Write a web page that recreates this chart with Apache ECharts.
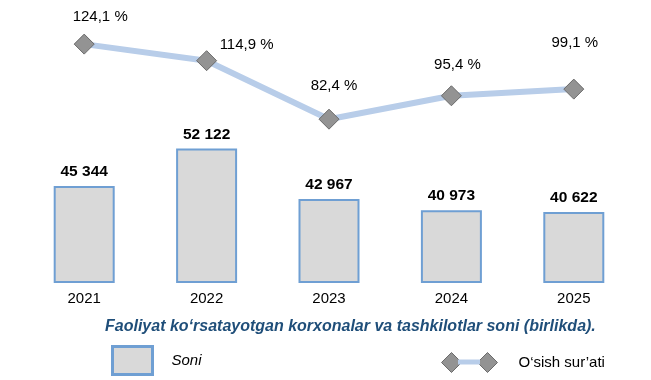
<!DOCTYPE html>
<html>
<head>
<meta charset="utf-8">
<script src="https://cdn.jsdelivr.net/npm/echarts@6/dist/echarts.min.js"></script>
<style>
html,body{margin:0;padding:0;background:#fff;}
#chart{width:651px;height:380px;}
</style>
</head>
<body>
<div id="chart"></div>
<script>
const years = ['2021', '2022', '2023', '2024', '2025'];
const soni = [45344, 52122, 42967, 40973, 40622];
const osish = [124.1, 114.9, 82.4, 95.4, 99.1];
const titleText = 'Faoliyat ko\u2018rsatayotgan korxonalar va tashkilotlar soni (birlikda).';
const barName = 'Soni';
const lineName = 'O\u2018sish sur\u2019ati';

// label placement tweaks (styling only)
const lineLabelOffsets = [[16, -27], [40, -16], [5, -33], [6, -31], [1, -46]];

const fmtThousands = v => String(v).replace(/\B(?=(\d{3})+(?!\d))/g, ' ');
const fmtPct = v => v.toFixed(1).replace('.', ',') + ' %';

const chart = echarts.init(document.getElementById('chart'), null, {renderer: 'canvas'});
const font = 'Liberation Sans, Arial, sans-serif';

chart.setOption({
  animation: false,
  backgroundColor: '#fff',
  textStyle: {fontFamily: font},
  title: {
    text: titleText,
    left: 105, top: 319, padding: 0,
    textStyle: {fontFamily: font, fontSize: 16, fontWeight: 'bold', fontStyle: 'italic', color: '#1f4e79'}
  },
  legend: [
    {
      data: [barName], left: 111, top: 345, padding: 0,
      itemWidth: 40, itemHeight: 28, itemGap: 10,
      icon: 'rect',
      itemStyle: {color: '#d9d9d9', borderColor: '#6f9fd3', borderWidth: 3},
      textStyle: {fontFamily: font, fontSize: 15, fontStyle: 'italic', color: '#000', padding: [0, 0, 0, 14]}
    },
    {
      data: [lineName], left: 441, top: 352, padding: 0,
      itemWidth: 56, itemHeight: 20,
      icon: 'path://M0,10 L10,0 L20,10 L10,20 Z M36,10 L46,0 L56,10 L46,20 Z',
      itemStyle: {color: '#939393', borderColor: '#6b6b6b', borderWidth: 1},
      textStyle: {fontFamily: font, fontSize: 15, color: '#000', padding: [0, 0, 0, 16]}
    }
  ],
  graphic: [
    {type: 'rect', shape: {x: 458, y: 359.5, width: 22, height: 5}, style: {fill: '#b8cde9'}, z: 100}
  ],
  grid: [
    {left: 23, right: 16, top: 138, bottom: 98},
    {left: 23, right: 16, top: 33.5, bottom: 256.5}
  ],
  xAxis: [
    {
      type: 'category', data: years, gridIndex: 0,
      axisLine: {show: false}, axisTick: {show: false},
      axisLabel: {fontFamily: font, fontSize: 15, color: '#000', margin: 9}
    },
    {
      type: 'category', data: years, gridIndex: 1,
      axisLine: {show: false}, axisTick: {show: false}, axisLabel: {show: false}
    }
  ],
  yAxis: [
    {type: 'value', gridIndex: 0, min: 28000, max: 54000, show: false, splitLine: {show: false}},
    {type: 'value', gridIndex: 1, min: 80, max: 130, show: false, splitLine: {show: false}}
  ],
  series: [
    {
      name: barName, type: 'bar', xAxisIndex: 0, yAxisIndex: 0,
      data: soni, barWidth: 61,
      itemStyle: {color: '#d9d9d9', borderColor: '#6f9fd3', borderWidth: 2},
      label: {
        show: true, position: 'top', distance: 6,
        formatter: p => fmtThousands(p.value),
        fontFamily: font, fontSize: 15.5, fontWeight: 'bold', color: '#000'
      }
    },
    {
      name: lineName, type: 'line', xAxisIndex: 1, yAxisIndex: 1,
      data: osish.map((v, i) => ({
        value: v,
        label: {offset: lineLabelOffsets[i]}
      })),
      lineStyle: {color: '#b8cde9', width: 6},
      symbol: 'diamond', symbolSize: 20,
      itemStyle: {color: '#939393', borderColor: '#6b6b6b', borderWidth: 1},
      label: {
        show: true, position: 'inside',
        formatter: p => fmtPct(p.value),
        fontFamily: font, fontSize: 15, color: '#000'
      },
      z: 5
    }
  ]
});
</script>
</body>
</html>
